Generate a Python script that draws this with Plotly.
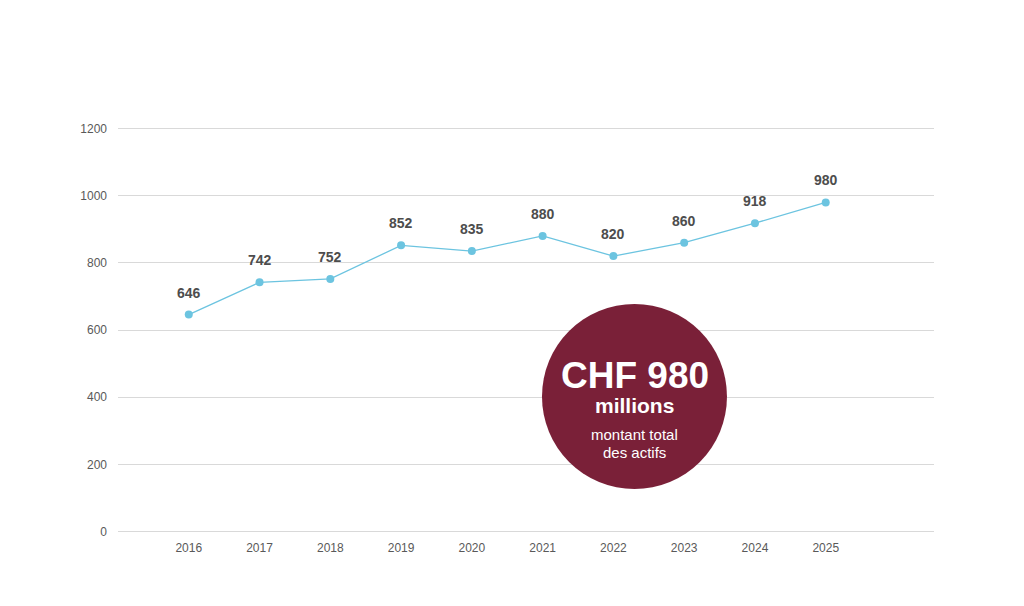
import plotly.graph_objects as go

years = [2016, 2017, 2018, 2019, 2020, 2021, 2022, 2023, 2024, 2025]
assets = [646, 742, 752, 852, 835, 880, 820, 860, 918, 980]
y_ticks = [0, 200, 400, 600, 800, 1000, 1200]

LINE = "#6CC4E0"
GRID = "#D9D9D9"
TEXT = "#595959"
WINE = "#7A2038"
FONT = "Liberation Sans, Arial, sans-serif"

fig = go.Figure(
    go.Scatter(
        x=years, y=assets, mode="lines+markers",
        line=dict(color=LINE, width=1.3),
        marker=dict(color=LINE, size=8),
        hoverinfo="x+y", showlegend=False,
    )
)

# plotly drops grid lines sitting on the plot edges, so draw the outer two by hand
for edge in (y_ticks[0], y_ticks[-1]):
    fig.add_hline(y=edge, line=dict(color=GRID, width=1), layer="below")

# value labels above each point
for x, y in zip(years, assets):
    fig.add_annotation(x=x, y=y, text=f"<b>{y}</b>", showarrow=False, yshift=22,
                       font=dict(size=14, color="#4D4D4D", family=FONT))

# the big wine-coloured badge
fig.add_shape(type="circle", xref="paper", yref="paper",
              x0=0.5196, x1=0.7463, y0=0.1064, y1=0.5644,
              fillcolor=WINE, line=dict(width=0), layer="above")
badge = [
    ("<b>CHF 980</b>", 0.388, 37),
    ("<b>millions</b>", 0.314, 21),
    ("montant total", 0.241, 15),
    ("des actifs", 0.196, 15),
]
for txt, yy, size in badge:
    fig.add_annotation(xref="paper", yref="paper", x=0.633, y=yy, text=txt,
                       xanchor="center", yanchor="middle", showarrow=False,
                       font=dict(size=size, color="white", family=FONT))

fig.update_xaxes(range=[2015, 2026.53], tickvals=years, showgrid=False, zeroline=False,
                 showline=False, ticks="", ticklabelstandoff=7,
                 tickfont=dict(size=12, color=TEXT, family=FONT))
fig.update_yaxes(range=[-1.5, 1201.5], tickvals=y_ticks, showgrid=True, gridcolor=GRID,
                 gridwidth=1, zeroline=False, showline=False, ticks="", ticklabelstandoff=10,
                 tickfont=dict(size=12, color=TEXT, family=FONT))
fig.update_layout(
    width=1024, height=606,
    margin=dict(l=110, r=98, t=120, b=82),
    paper_bgcolor="white", plot_bgcolor="white",
    font=dict(family=FONT),
)
fig.write_html("out.html")
